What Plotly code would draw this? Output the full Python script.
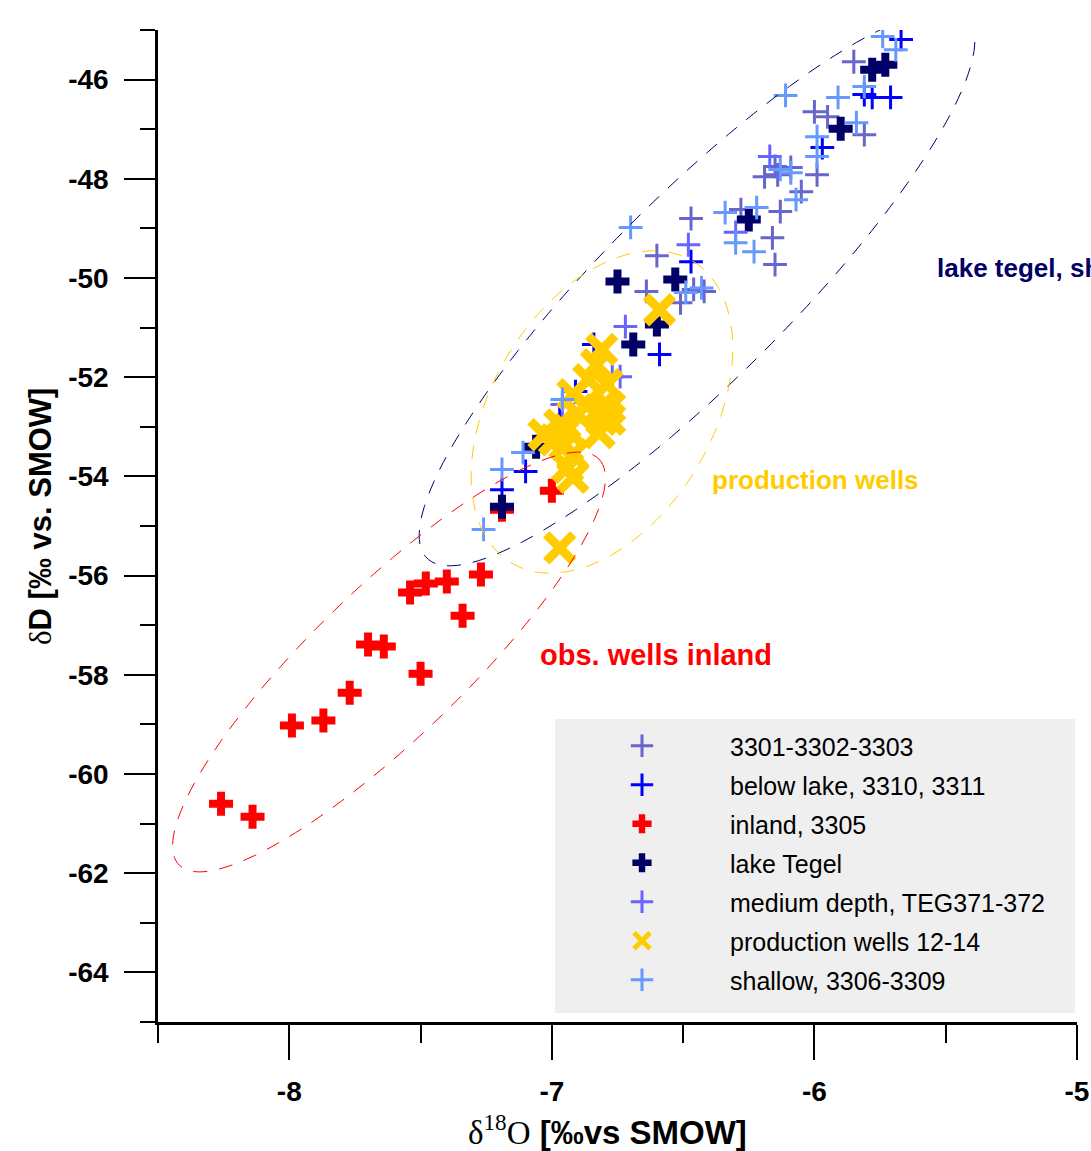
import numpy as np
import plotly.graph_objects as go

# ---------------- data ----------------
s3301_x = [-5.85, -6.00, -5.95, -5.81, -6.15, -6.09, -6.14, -6.19, -5.99, -6.05, -6.13, -6.28, -6.16, -6.15, -6.47, -6.60, -6.64, -6.46, -6.42, -6.51]
s3301_y = [-45.64, -46.65, -46.75, -47.11, -47.75, -47.77, -47.92, -47.96, -47.92, -48.26, -48.66, -48.62, -49.19, -49.73, -48.80, -49.55, -50.27, -50.23, -50.27, -50.50]

below_x = [-5.67, -5.81, -5.78, -5.71, -5.97, -6.47, -6.59, -6.84, -6.91, -6.97, -7.10, -7.19]
below_y = [-45.19, -46.30, -46.36, -46.36, -47.37, -49.67, -51.54, -51.34, -52.29, -52.79, -53.90, -54.27]

inland_x = [-8.26, -8.14, -7.99, -7.87, -7.77, -7.70, -7.64, -7.50, -7.54, -7.48, -7.40, -7.34, -7.27, -7.00, -7.19]
inland_y = [-60.60, -60.86, -59.02, -58.92, -58.36, -57.39, -57.43, -57.98, -56.34, -56.16, -56.12, -56.81, -55.98, -54.29, -54.67]

tegel_x = [-5.78, -5.73, -5.90, -6.25, -6.75, -6.53, -6.60, -6.69, -7.06, -7.19]
tegel_y = [-45.80, -45.70, -46.99, -48.82, -50.07, -50.03, -50.94, -51.34, -53.40, -54.61]

medium_x = [-6.17, -6.30, -6.48, -6.72, -6.77, -6.74, -6.96]
medium_y = [-47.55, -49.08, -49.33, -50.98, -51.99, -51.99, -52.55]

prod_x = [-6.59, -6.81, -6.83, -6.86, -6.79, -6.92, -6.87, -6.82, -6.78, -6.90, -6.81, -6.97, -6.94, -7.03, -6.99, -6.95, -6.92, -6.94, -6.92, -6.97, -6.78, -6.82]
prod_y = [-50.64, -51.44, -51.75, -52.05, -52.15, -52.35, -52.55, -52.65, -52.61, -52.75, -52.85, -52.96, -53.06, -53.16, -53.26, -53.36, -53.56, -53.82, -54.02, -55.44, -52.85, -53.12]

shallow_x = [-5.74, -5.69, -5.81, -6.11, -5.91, -5.84, -5.99, -5.99, -6.13, -6.09, -6.07, -6.34, -6.22, -6.30, -6.23, -6.70, -6.49, -6.43, -6.96, -7.11, -7.19, -7.26]
shallow_y = [-45.13, -45.40, -46.14, -46.32, -46.36, -46.87, -47.15, -47.55, -47.81, -47.88, -48.42, -48.68, -48.58, -49.29, -49.47, -48.98, -50.29, -50.20, -52.45, -53.52, -53.86, -55.07]

x_tickvals = [-8, -7, -6, -5]
x_ticktext = ["-8", "-7", "-6", "-5"]
y_tickvals = [-46, -48, -50, -52, -54, -56, -58, -60, -62, -64]
y_ticktext = ["-46", "-48", "-50", "-52", "-54", "-56", "-58", "-60", "-62", "-64"]

# ---------------- layout constants ----------------
W, H = 1091, 1151
ML, MR, MT, MB = 158, 14, 30, 129
XR = [-8.5, -5.0]
YR = [-65.0, -45.0]
PW, PH = W - ML - MR, H - MT - MB

def px2data(px, py):
    xd = XR[0] + (np.asarray(px) - ML) / PW * (XR[1] - XR[0])
    yd = YR[1] - (np.asarray(py) - MT) / PH * (YR[1] - YR[0])
    return xd, yd

def ellipse_path(cx, cy, a, b, ang_deg, n=140):
    t = np.linspace(0, 2 * np.pi, n)
    phi = np.deg2rad(ang_deg)
    ux, uy = np.cos(phi), -np.sin(phi)
    nx, ny = np.sin(phi), np.cos(phi)
    px = cx + a * np.cos(t) * ux + b * np.sin(t) * nx
    py = cy + a * np.cos(t) * uy + b * np.sin(t) * ny
    xd, yd = px2data(px, py)
    return "M " + " L ".join(f"{x:.4f},{y:.4f}" for x, y in zip(xd, yd)) + " Z"

fig = go.Figure()

def thin(name, x, y, color):
    fig.add_trace(go.Scatter(x=x, y=y, mode="markers", name=name, legendgroup=name,
                             marker=dict(symbol="cross-thin", size=17, color=color,
                                         line=dict(width=3, color=color))))

def thick(name, x, y, color):
    fig.add_trace(go.Scatter(x=x, y=y, mode="markers", name=name, legendgroup=name,
                             marker=dict(symbol="cross", size=20, color=color,
                                         line=dict(width=0))))

thin("3301-3302-3303", s3301_x, s3301_y, "#6666cc")
thin("below lake, 3310, 3311", below_x, below_y, "#0000ff")
thick("inland, 3305", inland_x, inland_y, "#ff0000")
thick("lake Tegel", tegel_x, tegel_y, "#000066")
thin("medium depth, TEG371-372", medium_x, medium_y, "#6666ff")
fig.add_trace(go.Scatter(x=prod_x, y=prod_y, mode="markers", name="production wells 12-14",
                         legendgroup="prod",
                         marker=dict(symbol="x-thin", size=27, color="#ffcc00",
                                     line=dict(width=9, color="#ffcc00"))))
thin("shallow, 3306-3309", shallow_x, shallow_y, "#6699ff")

shapes = [
    dict(type="rect", xref="paper", yref="paper",
         x0=(555 - ML) / PW, x1=(1075 - ML) / PW,
         y0=(H - MB - 1013) / PH, y1=(H - MB - 719) / PH,
         fillcolor="#efefef", line=dict(width=0), layer="below"),
    dict(type="path", xref="x", yref="y", path=ellipse_path(697, 288, 382, 92, 45),
         line=dict(color="#000066", width=1, dash="14px,12px")),
    dict(type="path", xref="x", yref="y", path=ellipse_path(602, 412, 176, 110, 59),
         line=dict(color="#ffcc00", width=1, dash="14px,12px")),
    dict(type="path", xref="x", yref="y", path=ellipse_path(389, 662, 292, 75, 44),
         line=dict(color="#ff0000", width=1, dash="14px,12px")),
]

def pxx(px):
    return (px - ML) / PW

def pxy(py):
    return (H - MB - py) / PH

annotations = [
    dict(text="lake tegel, shallow", x=pxx(935), y=pxy(268), xref="paper", yref="paper",
         xanchor="left", yanchor="middle", showarrow=False,
         font=dict(family="Liberation Sans", size=26, color="#000066", weight="bold")),
    dict(text="production wells", x=pxx(710), y=pxy(480), xref="paper", yref="paper",
         xanchor="left", yanchor="middle", showarrow=False,
         font=dict(family="Liberation Sans", size=26, color="#ffcc00", weight="bold")),
    dict(text="obs. wells inland", x=pxx(538), y=pxy(655), xref="paper", yref="paper",
         xanchor="left", yanchor="middle", showarrow=False,
         font=dict(family="Liberation Sans", size=29, color="#ff0000", weight="bold")),
    dict(text="<span style='font-family:Liberation Serif;font-weight:normal'>δ<sup>18</sup>O</span> <b>[‰vs SMOW]</b>",
         x=pxx(607), y=pxy(1130), xref="paper", yref="paper",
         xanchor="center", yanchor="middle", showarrow=False,
         font=dict(family="Liberation Sans", size=33, color="black")),
    dict(text="<span style='font-family:Liberation Serif'>δ</span><b>D [‰ vs. SMOW]</b>",
         x=pxx(40), y=pxy(517), xref="paper", yref="paper", textangle=-90,
         xanchor="center", yanchor="middle", showarrow=False,
         font=dict(family="Liberation Sans", size=31, color="black")),
]

tickfont = dict(family="Liberation Sans", size=28, color="black", weight="bold")

fig.update_xaxes(range=XR, showline=True, linecolor="black", linewidth=2.5, mirror=False,
                 automargin=False,
                 ticks="outside", ticklen=35, tickwidth=2, tickcolor="black",
                 tickmode="array", tickvals=x_tickvals, ticktext=x_ticktext,
                 showgrid=False, zeroline=False, tickfont=tickfont,
                 ticklabelstandoff=8, ticklabeloverflow="allow",
                 minor=dict(ticks="outside", tickmode="linear", dtick=0.5, tick0=-8,
                            ticklen=18, tickwidth=2, tickcolor="black", showgrid=False))
fig.update_yaxes(range=YR, showline=True, linecolor="black", linewidth=2.5,
                 automargin=False,
                 ticks="outside", ticklen=31, tickwidth=2, tickcolor="black",
                 tickmode="array", tickvals=y_tickvals, ticktext=y_ticktext,
                 showgrid=False, zeroline=False, tickfont=tickfont,
                 ticklabelstandoff=10, ticklabeloverflow="allow",
                 minor=dict(ticks="outside", tickmode="linear", dtick=1, tick0=-46,
                            ticklen=15, tickwidth=2, tickcolor="black", showgrid=False))

fig.update_layout(
    width=W, height=H,
    margin=dict(l=ML, r=MR, t=MT, b=MB, autoexpand=False),
    plot_bgcolor="white", paper_bgcolor="white",
    shapes=shapes, annotations=annotations,
    showlegend=True,
    legend=dict(x=pxx(554), y=pxy(723), xanchor="left", yanchor="top",
                bgcolor="rgba(0,0,0,0)", borderwidth=0, itemwidth=166,
                tracegroupgap=3.5, itemsizing="trace",
                font=dict(family="Liberation Sans", size=25, color="black")),
)

fig.write_html("out.html")
